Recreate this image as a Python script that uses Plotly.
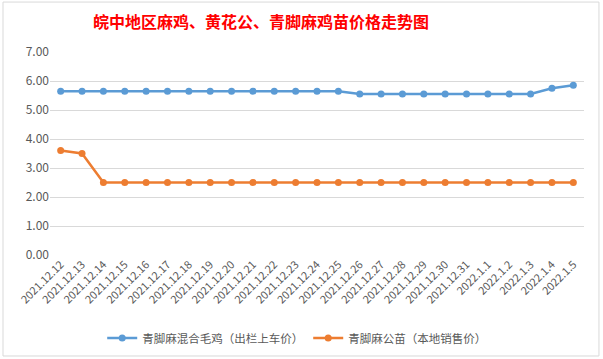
import plotly.graph_objects as go

dates = ["2021.12.12", "2021.12.13", "2021.12.14", "2021.12.15", "2021.12.16",
         "2021.12.17", "2021.12.18", "2021.12.19", "2021.12.20", "2021.12.21",
         "2021.12.22", "2021.12.23", "2021.12.24", "2021.12.25", "2021.12.26",
         "2021.12.27", "2021.12.28", "2021.12.29", "2021.12.30", "2021.12.31",
         "2022.1.1", "2022.1.2", "2022.1.3", "2022.1.4", "2022.1.5"]
mixed_chicken = [5.65, 5.65, 5.65, 5.65, 5.65, 5.65, 5.65, 5.65, 5.65, 5.65,
                 5.65, 5.65, 5.65, 5.65, 5.55, 5.55, 5.55, 5.55, 5.55, 5.55,
                 5.55, 5.55, 5.55, 5.75, 5.85]
rooster_chick = [3.6, 3.5, 2.5, 2.5, 2.5, 2.5, 2.5, 2.5, 2.5, 2.5,
                 2.5, 2.5, 2.5, 2.5, 2.5, 2.5, 2.5, 2.5, 2.5, 2.5,
                 2.5, 2.5, 2.5, 2.5, 2.5]
name_mixed = "青脚麻混合毛鸡（出栏上车价）"
name_rooster = "青脚麻公苗（本地销售价）"
title_text = "皖中地区麻鸡、黄花公、青脚麻鸡苗价格走势图"

FONT = "Noto Sans CJK SC, Microsoft YaHei, sans-serif"

fig = go.Figure()
fig.add_trace(go.Scatter(x=dates, y=mixed_chicken, name=name_mixed, mode="lines+markers",
                         line=dict(color="#5B9BD5", width=2.5),
                         marker=dict(color="#5B9BD5", size=7)))
fig.add_trace(go.Scatter(x=dates, y=rooster_chick, name=name_rooster, mode="lines+markers",
                         line=dict(color="#ED7D31", width=2.5),
                         marker=dict(color="#ED7D31", size=7)))

fig.update_layout(
    width=603, height=359,
    margin=dict(l=50, r=19, t=52, b=104, autoexpand=False),
    paper_bgcolor="white", plot_bgcolor="white",
    font=dict(family=FONT, color="#595959", size=11),
    title=dict(text="<b>" + title_text + "</b>", x=0.395, xref="paper", xanchor="center",
               y=1 - 22 / 359, yref="container", yanchor="middle",
               font=dict(family=FONT, color="#FF0000", size=16)),
    showlegend=True,
    legend=dict(orientation="h", x=0.462, xanchor="center", y=-0.409, yanchor="middle",
                font=dict(size=11.5, color="#595959"), itemwidth=30, bgcolor="rgba(0,0,0,0)"),
    xaxis=dict(type="category", range=[-0.5, len(dates) - 0.5], tickangle=-45,
               showgrid=False, showline=False, ticks="", automargin=False,
               tickfont=dict(size=11, color="#595959")),
    yaxis=dict(range=[0, 7], dtick=1, tickformat=".2f", showgrid=True, gridcolor="#D9D9D9",
               gridwidth=1, zeroline=False, showline=False, ticks="", automargin=False,
               tickfont=dict(size=12, color="#595959")),
    shapes=[dict(type="rect", xref="paper", yref="paper",
                 x0=-0.088, x1=1.028, y0=-0.4975, y1=1.246,
                 line=dict(color="#D9D9D9", width=1), fillcolor="rgba(0,0,0,0)", layer="below")],
)

fig.write_html("out.html", config={"displayModeBar": False},
               post_script="document.body.style.margin='0';document.body.style.overflow='hidden';")
